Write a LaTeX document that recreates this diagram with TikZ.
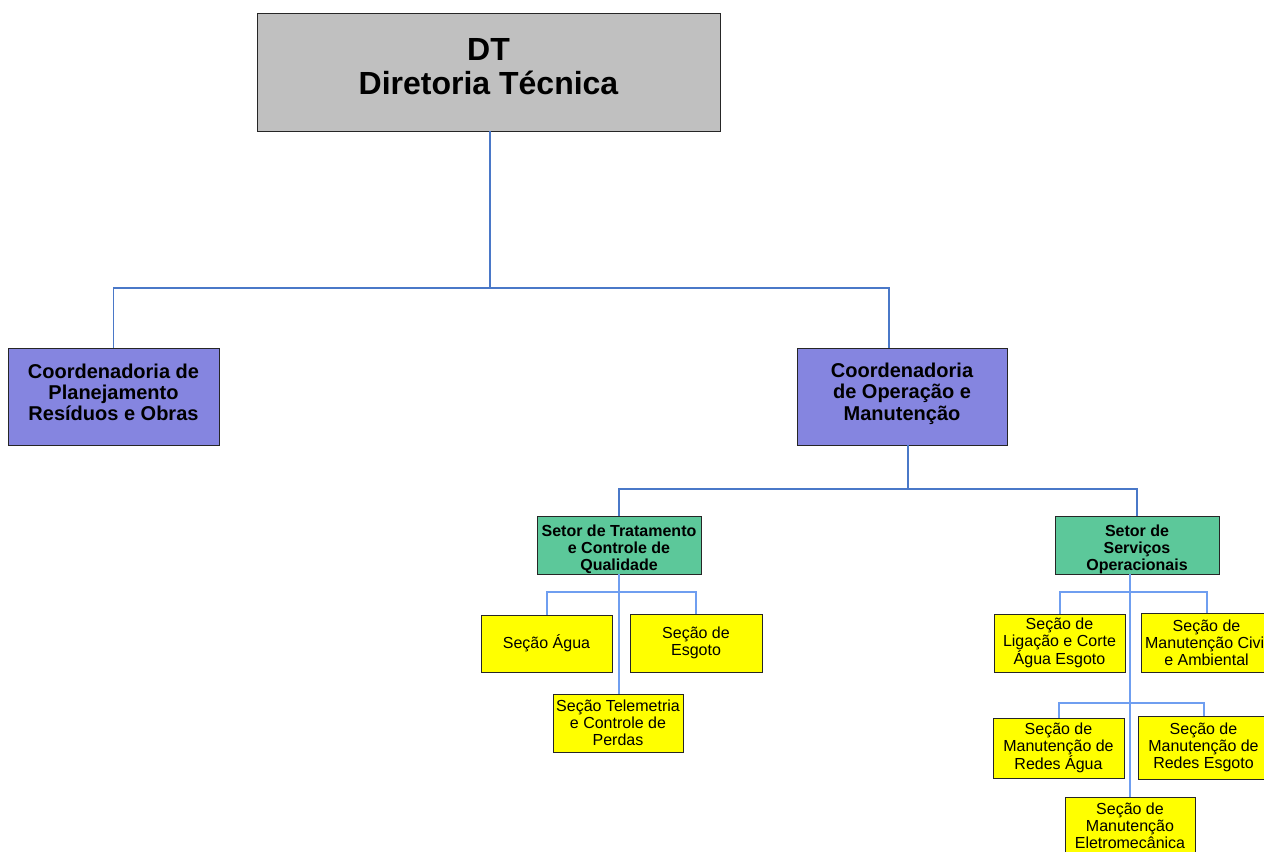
\documentclass[tikz,border=0pt]{standalone}
\usepackage{fontspec}
\setmainfont{Liberation Sans}
\definecolor{dtgray}{HTML}{C0C0C0}
\definecolor{coordfill}{HTML}{8585E0}
\definecolor{setorfill}{HTML}{5CC89A}
\definecolor{secfill}{HTML}{FFFF00}
\definecolor{lineA}{HTML}{4A78C8}
\definecolor{lineB}{HTML}{6F9EF0}
\newcommand{\topstrut}[1]{\rule{0pt}{#1}}
\newcommand{\botstrut}[1]{\rule[-#1]{0pt}{0pt}}
\begin{document}
\begin{tikzpicture}[x=0.75pt,y=-0.75pt,
  bw/.style={minimum width={#1*0.75pt}},
  bh/.style={minimum height={#1*0.75pt}},
  box/.style={draw=black!85, line width=0.7pt, align=center, inner sep=0pt, text=black},
  dtbox/.style={box, fill=dtgray, font=\bfseries\fontsize{24}{26}\selectfont},
  coordbox/.style={box, fill=coordfill, font=\bfseries\fontsize{15}{16}\selectfont},
  setorbox/.style={box, fill=setorfill, font=\bfseries\fontsize{12}{12.75}\selectfont},
  secbox/.style={box, fill=secfill, font=\fontsize{12}{12.75}\selectfont},
  connA/.style={draw=lineA, line width=1.1pt},
  connB/.style={draw=lineB, line width=1.5pt}]
\useasboundingbox (0,0) rectangle (1264,852);

\node[dtbox, bw=463, bh=118] (dt) at (488.5,72) {DT\\Diretoria Técnica\botstrut{8.4pt}};
\node[coordbox, bw=211, bh=97] (cp) at (113.5,397) {Coordenadoria de\\Planejamento\\Resíduos e Obras\botstrut{7.2pt}};
\node[coordbox, bw=210, bh=97] (co) at (902,396.5) {Coordenadoria\\de Operação e\\Manutenção\botstrut{7.2pt}};
\node[setorbox, bw=164, bh=58] (st) at (619,545) {\topstrut{15.3pt}Setor de Tratamento\\e Controle de\\Qualidade\botstrut{2.6pt}};
\node[setorbox, bw=164, bh=58] (ss) at (1137,545) {\topstrut{15.3pt}Setor de\\Serviços\\Operacionais\botstrut{2.6pt}};
\node[secbox, bw=131, bh=57] (agua) at (546.5,643.5) {Seção Água};
\node[secbox, bw=132, bh=58] (esg) at (696,643) {Seção de\\Esgoto};
\node[secbox, bw=130, bh=58] (tel) at (618,723) {Seção Telemetria\\e Controle de\\Perdas};
\node[secbox, bw=131, bh=58] (lig) at (1059.5,643) {Seção de\\Ligação e Corte\\Água Esgoto};
\node[secbox, bw=131, bh=59] (civ) at (1206.5,642.5) {Seção de\\Manutenção Civil\\e Ambiental};
\node[secbox, bw=131, bh=60] (ra) at (1058.5,748) {Seção de\\Manutenção de\\Redes Água};
\node[secbox, bw=131, bh=63] (re) at (1203.5,747.5) {Seção de\\Manutenção de\\Redes Esgoto};
\node[secbox, bw=130, bh=58] (ele) at (1130,826) {Seção de\\Manutenção\\Eletromecânica};

\coordinate (b1) at (0,288);
\coordinate (b2) at (0,489);
\coordinate (b3) at (0,592);
\coordinate (b4) at (0,703);

\draw[connA] ([xshift=1.1pt]dt.south) -- ([xshift=1.1pt]dt.south |- b1) -| (cp.north);
\draw[connA] ([xshift=1.1pt]dt.south |- b1) -| ([xshift=-9.75pt]co.north);
\draw[connA] ([xshift=4.5pt]co.south) -- ([xshift=4.5pt]co.south |- b2) -| (st.north);
\draw[connA] ([xshift=4.5pt]co.south |- b2) -| (ss.north);

\draw[connB] (st.south) -- (st.south |- tel.north);
\draw[connB] (agua.north) |- (st.south |- b3) -| (esg.north);

\draw[connB] (ele.north |- ss.south) -- (ele.north);
\draw[connB] (lig.north) |- (ele.north |- b3) -| (civ.north);
\draw[connB] (ra.north) |- (ele.north |- b4) -| (re.north);
\end{tikzpicture}
\end{document}
